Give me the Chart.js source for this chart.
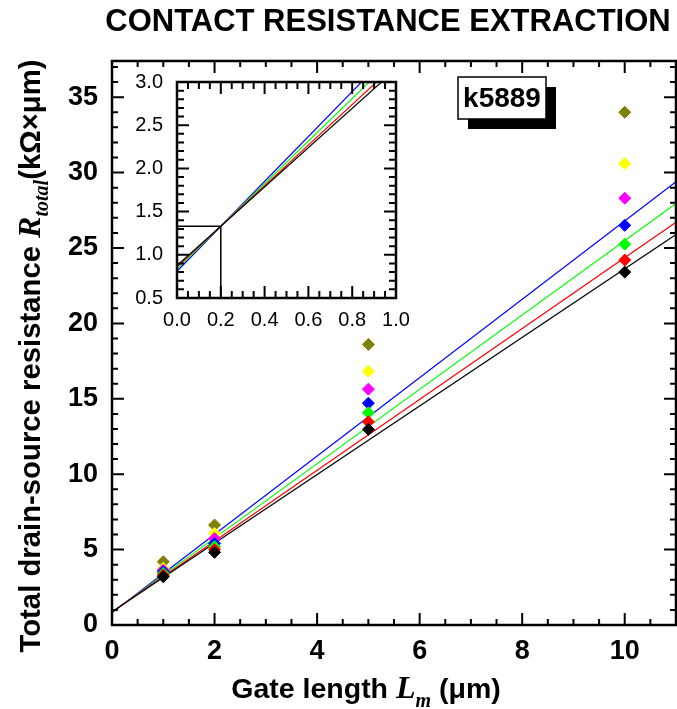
<!DOCTYPE html>
<html><head><meta charset="utf-8">
<script src="https://cdn.jsdelivr.net/npm/chart.js@4/dist/chart.umd.min.js"></script>
<style>
html,body{margin:0;padding:0;background:#fff;}
#wrap{position:relative;width:677px;height:709px;overflow:hidden;background:#fff;}
#main{position:absolute;left:0;top:0;}
#inset{position:absolute;left:120px;top:70px;}
</style></head><body>
<div id="wrap"><canvas id="main" width="677" height="709"></canvas><canvas id="inset" width="300" height="275"></canvas></div>
<script>
// ---- data ----
const gateLengths = [1, 2, 5, 10];
const rBlack   = [3.20, 4.82, 12.97, 23.4];
const rRed     = [3.31, 5.01, 13.47, 24.2];
const rGreen   = [3.42, 5.19, 14.07, 25.25];
const rBlue    = [3.53, 5.41, 14.71, 26.5];
const rMagenta = [3.64, 5.74, 15.64, 28.3];
const rYellow  = [3.76, 6.07, 16.83, 30.6];
const rOlive   = [4.20, 6.63, 18.60, 34.0];
// linear fit lines, value at x = 0 and at x = 11
const fitX     = [0, 11];
const fitBlack = [0.875, 25.9];
const fitRed   = [0.86, 26.7];
const fitGreen = [0.837, 27.95];
const fitBlue  = [0.81, 29.4];
// inset guide (intersection marker)
const guideX = [0, 0.2, 0.2];
const guideY = [1.33, 1.33, 0.5];
// tick labels
const xTickLabels = [0, 2, 4, 6, 8, 10];
const yTickLabels = [0, 5, 10, 15, 20, 25, 30, 35];
const insetXTicks = [0, 0.2, 0.4, 0.6, 0.8, 1.0];
const insetYTicks = [0.5, 1.0, 1.5, 2.0, 2.5, 3.0];
const legendLabel = 'k5889';
const chartTitle = 'CONTACT RESISTANCE EXTRACTION';

const SANS = '"Liberation Sans", Arial, sans-serif';
const SERIF = '"Liberation Serif", "Times New Roman", serif';

function pts(xs, ys){ return xs.map((x,i)=>({x:x, y:ys[i]})); }

function pointSet(ys, color){
  return {data: pts(gateLengths, ys), showLine:false, pointStyle:'rectRot', pointRadius:6,
    pointHoverRadius:6, backgroundColor:color, borderColor:color, borderWidth:1};
}
function lineSet(ys, color, xs){
  return {data: pts(xs || fitX, ys), showLine:true, pointRadius:0, borderColor:color,
    borderWidth:1.2, fill:false, tension:0};
}

function range(from, to, step){
  const out=[]; for(let i=0;;i++){const v=from+i*step; if(v>to+1e-9) break; out.push(v);} return out;
}
function isMult(v, m){ const r=v/m; return Math.abs(r-Math.round(r))<1e-6; }
function noPad(s){ s.paddingLeft=0; s.paddingRight=0; s.paddingTop=0; s.paddingBottom=0; }

function drawFrame(chart, c){
  const {ctx, chartArea:a} = chart; const x=chart.scales.x, y=chart.scales.y;
  ctx.save(); ctx.strokeStyle='#000'; ctx.lineWidth=c.tickWidth; ctx.beginPath();
  for(const v of range(x.min, x.max, c.xMinor)){
    const len = isMult(v, c.xMajor) ? c.major : c.minor; const p = x.getPixelForValue(v);
    ctx.moveTo(p, a.bottom); ctx.lineTo(p, a.bottom-len);
    ctx.moveTo(p, a.top); ctx.lineTo(p, a.top+len);
  }
  for(const v of range(y.min, y.max, c.yMinor)){
    const len = isMult(v - c.yBase, c.yMajor) ? c.major : c.minor; const p = y.getPixelForValue(v);
    ctx.moveTo(a.left, p); ctx.lineTo(a.left+len, p);
    ctx.moveTo(a.right, p); ctx.lineTo(a.right-len, p);
  }
  ctx.stroke();
  ctx.lineWidth=c.frameWidth;
  ctx.strokeRect(a.left, a.top, a.right-a.left, a.bottom-a.top);
  ctx.restore();
}

function drawRich(ctx, parts, x, y, rotate){
  ctx.save(); ctx.translate(x, y); if(rotate) ctx.rotate(-Math.PI/2);
  let total=0; for(const p of parts){ ctx.font=p.font; p.w=ctx.measureText(p.text).width; total+=p.w; }
  let cx=-total/2; ctx.textBaseline='alphabetic'; ctx.textAlign='left'; ctx.fillStyle='#000';
  for(const p of parts){ ctx.font=p.font; ctx.fillText(p.text, cx, p.dy||0); cx+=p.w; }
  ctx.restore();
}

const mainDecor = {
  id:'mainDecor',
  afterDraw(chart){
    drawFrame(chart, {xMinor:0.5, xMajor:2, yMinor:1, yMajor:5, yBase:0, major:12, minor:6, tickWidth:2, frameWidth:2.5});
    const ctx = chart.ctx;
    // title
    ctx.save(); ctx.fillStyle='#000'; ctx.font='bold 31px '+SANS; ctx.textAlign='center'; ctx.textBaseline='middle';
    ctx.fillText(chartTitle, 388, 22); ctx.restore();
    // x-axis title
    drawRich(ctx, [
      {text:'Gate length ', font:'bold 28.5px '+SANS},
      {text:'L', font:'italic bold 32px '+SERIF},
      {text:'m', font:'italic bold 20px '+SERIF, dy:9},
      {text:' (\u03bcm)', font:'bold 28.5px '+SANS}
    ], 366, 698, false);
    // y-axis title
    drawRich(ctx, [
      {text:'Total drain-source resistance ', font:'bold 29.3px '+SANS},
      {text:'R', font:'italic bold 32px '+SERIF},
      {text:'total', font:'italic bold 20px '+SERIF, dy:8},
      {text:'(k\u03a9\u00d7\u03bcm)', font:'bold 29.3px '+SANS}
    ], 40, 356, true);
    // label box with shadow
    ctx.save();
    ctx.fillStyle='#000'; ctx.fillRect(468, 87, 88, 42);
    ctx.fillStyle='#fff'; ctx.fillRect(458, 77, 88, 42);
    ctx.strokeStyle='#000'; ctx.lineWidth=1.5; ctx.strokeRect(458, 77, 88, 42);
    ctx.fillStyle='#000'; ctx.font='bold 28px '+SANS; ctx.textAlign='center'; ctx.textBaseline='middle';
    ctx.fillText(legendLabel, 502, 99);
    ctx.restore();
  }
};

const insetDecor = {
  id:'insetDecor',
  afterDraw(chart){
    drawFrame(chart, {xMinor:0.05, xMajor:0.2, yMinor:0.1, yMajor:0.5, yBase:0.5, major:12, minor:7, tickWidth:2, frameWidth:2.5});
  }
};

new Chart(document.getElementById('main'), {
  type:'scatter',
  data:{datasets:[
    pointSet(rBlack,'#000000'), pointSet(rRed,'#ff0000'), pointSet(rGreen,'#00ff00'),
    pointSet(rBlue,'#0000ff'), pointSet(rMagenta,'#ff00ff'), pointSet(rYellow,'#ffff00'),
    pointSet(rOlive,'#808000'),
    lineSet(fitBlack,'#000000'), lineSet(fitRed,'#ff0000'), lineSet(fitGreen,'#00ff00'), lineSet(fitBlue,'#0000ff')
  ]},
  options:{
    responsive:false, animation:false, devicePixelRatio:1,
    layout:{autoPadding:false, padding:{left:0, top:61, right:1, bottom:0}},
    plugins:{legend:{display:false}, tooltip:{enabled:false}, title:{display:false}},
    scales:{
      x:{type:'linear', min:0, max:11, grid:{display:false, drawTicks:false}, border:{display:false},
        afterBuildTicks:s=>{ s.ticks = xTickLabels.map(v=>({value:v})); },
        afterFit:s=>{ s.height = 84; noPad(s); },
        ticks:{font:{family:SANS, size:27, weight:'bold'}, color:'#000', padding:10, maxRotation:0, autoSkip:false}},
      y:{type:'linear', min:0, max:37.4, grid:{display:false, drawTicks:false}, border:{display:false},
        afterBuildTicks:s=>{ s.ticks = yTickLabels.map(v=>({value:v})); },
        afterFit:s=>{ s.width = 112; noPad(s); },
        ticks:{font:{family:SANS, size:27, weight:'bold'}, color:'#000', padding:14, autoSkip:false}}
    }
  },
  plugins:[mainDecor]
});

new Chart(document.getElementById('inset'), {
  type:'scatter',
  data:{datasets:[
    lineSet(fitBlack,'#000000'), lineSet(fitRed,'#ff0000'), lineSet(fitGreen,'#00ff00'), lineSet(fitBlue,'#0000ff'),
    Object.assign(lineSet(guideY,'#000000', guideX), {borderWidth:1.5})
  ]},
  options:{
    responsive:false, animation:false, devicePixelRatio:1,
    layout:{autoPadding:false, padding:{left:0, top:12, right:24, bottom:0}},
    plugins:{legend:{display:false}, tooltip:{enabled:false}},
    scales:{
      x:{type:'linear', min:0, max:1.0, grid:{display:false, drawTicks:false}, border:{display:false},
        afterBuildTicks:s=>{ s.ticks = insetXTicks.map(v=>({value:v})); },
        afterFit:s=>{ s.height = 47; noPad(s); },
        ticks:{font:{family:SANS, size:20}, color:'#000', padding:10, maxRotation:0, autoSkip:false,
          callback:v=>Number(v).toFixed(1)}},
      y:{type:'linear', min:0.5, max:3.0, grid:{display:false, drawTicks:false}, border:{display:false},
        afterBuildTicks:s=>{ s.ticks = insetYTicks.map(v=>({value:v})); },
        afterFit:s=>{ s.width = 57; noPad(s); },
        ticks:{font:{family:SANS, size:20}, color:'#000', padding:14, autoSkip:false,
          callback:v=>Number(v).toFixed(1)}}
    }
  },
  plugins:[insetDecor]
});
</script>
</body></html>
